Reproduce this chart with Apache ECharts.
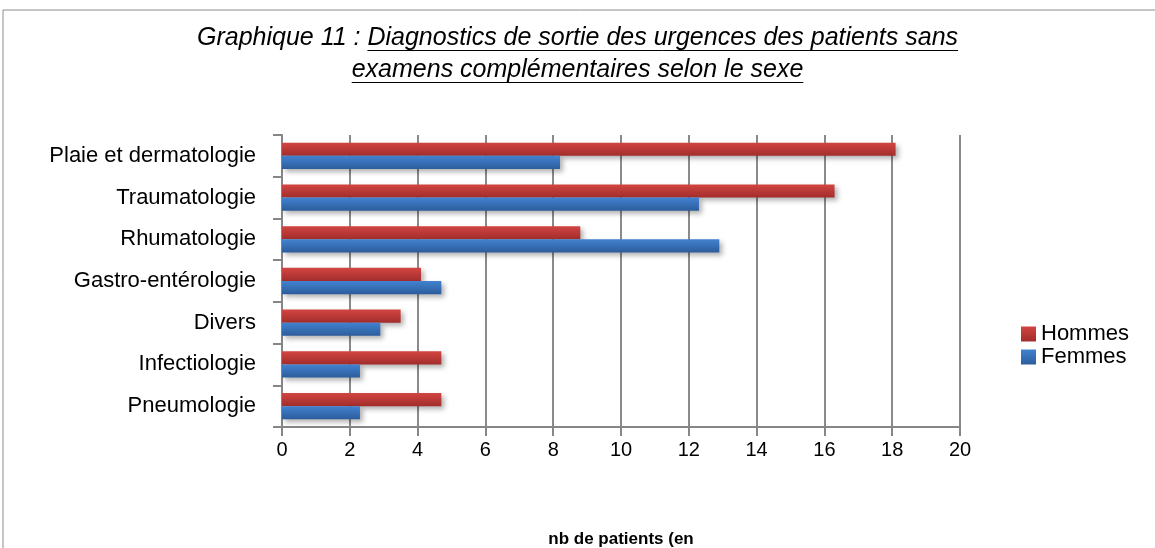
<!DOCTYPE html>
<html lang="fr">
<head>
    <meta charset="UTF-8">
    <title>Graphique 11</title>
    <script src="https://cdn.jsdelivr.net/npm/echarts@6/dist/echarts.min.js"></script>
    <style>
        body { margin: 0; background: #fff; }
        #root { width: 1155px; height: 548px; }
    </style>
</head>
<body>
    <div id="root"></div>
    <script>
        // catégories (de bas en haut)
        var categories = ['Pneumologie', 'Infectiologie', 'Divers', 'Gastro-entérologie',
            'Rhumatologie', 'Traumatologie', 'Plaie et dermatologie'];
        var hommes = [4.7, 4.7, 3.5, 4.1, 8.8, 16.3, 18.1];
        var femmes = [2.3, 2.3, 2.9, 4.7, 12.9, 12.3, 8.2];
        var xTicks = [0, 2, 4, 6, 8, 10, 12, 14, 16, 18, 20];

        var titlePre = 'Graphique 11 : ';
        var titleL1 = 'Diagnostics de sortie des urgences des patients sans';
        var titleL2 = 'examens complémentaires selon le sexe';

        var font = "'Liberation Sans', 'DejaVu Sans', sans-serif";
        var titleSize = 25;

        // mesure du texte pour placer le soulignement
        var ctx = document.createElement('canvas').getContext('2d');
        ctx.font = 'italic ' + titleSize + 'px ' + font;
        var wPre = ctx.measureText(titlePre).width;
        var w1 = ctx.measureText(titleL1).width;
        var w2 = ctx.measureText(titleL2).width;
        var cx = 1155 / 2;
        var u1x = cx - (wPre + w1) / 2 + wPre;

        function grad(top, bottom) {
            return new echarts.graphic.LinearGradient(0, 0, 0, 1, [
                { offset: 0, color: top },
                { offset: 1, color: bottom }
            ]);
        }

        var chart = echarts.init(document.getElementById('root'));

        chart.setOption({
            animation: false,
            title: {
                text: '{n|' + titlePre + titleL1 + '}\n{n|' + titleL2 + '}',
                left: 'center',
                top: 17,
                textStyle: {
                    rich: {
                        n: { fontFamily: font, fontStyle: 'italic', fontWeight: 'normal', fontSize: titleSize, color: '#000', lineHeight: 32 }
                    }
                }
            },
            graphic: [
                { type: 'rect', shape: { x: 3, y: 10, width: 1160, height: 560 }, style: { fill: 'none', stroke: '#8c8c8c', lineWidth: 1 }, z: -1 },
                { type: 'line', shape: { x1: u1x, y1: 50.5, x2: u1x + w1, y2: 50.5 }, style: { stroke: '#000', lineWidth: 1 } },
                { type: 'line', shape: { x1: cx - w2 / 2, y1: 82.5, x2: cx + w2 / 2, y2: 82.5 }, style: { stroke: '#000', lineWidth: 1 } }
            ],
            legend: {
                data: ['Hommes', 'Femmes'],
                orient: 'vertical',
                left: 1016,
                top: 318,
                itemWidth: 15,
                itemHeight: 15,
                itemGap: 1,
                icon: 'rect',
                textStyle: { fontFamily: font, fontSize: 22, color: '#000' }
            },
            grid: { left: 282, right: 195, top: 135, bottom: 121, outerBoundsMode: 'none' },
            xAxis: {
                type: 'value',
                min: 0,
                max: 20,
                interval: 2,
                name: 'nb de patients (en',
                nameLocation: 'middle',
                nameGap: 104,
                nameTextStyle: { fontFamily: font, fontSize: 17, fontWeight: 'bold', color: '#000' },
                axisLine: { show: true, lineStyle: { color: '#868686', width: 2 } },
                axisTick: { show: true, length: 9, lineStyle: { color: '#868686', width: 2 } },
                axisLabel: { fontFamily: font, fontSize: 20, color: '#000', margin: 13,
                    formatter: function (v) { return xTicks.indexOf(v) >= 0 ? String(v) : ''; } },
                splitLine: { show: true, lineStyle: { color: '#8a8a8a', width: 2 } }
            },
            yAxis: {
                type: 'category',
                data: categories,
                axisLine: { show: true, lineStyle: { color: '#868686', width: 2 } },
                axisTick: { show: true, length: 9, lineStyle: { color: '#868686', width: 2 } },
                axisLabel: { fontFamily: font, fontSize: 22, color: '#000', margin: 26 }
            },
            series: [{
                name: 'Hommes',
                type: 'bar',
                data: hommes,
                barGap: '0%',
                barCategoryGap: '37%',
                itemStyle: { color: grad('#d24542', '#a22d2b'), shadowColor: 'rgba(0,0,0,0.3)', shadowBlur: 5, shadowOffsetX: 3, shadowOffsetY: 3 }
            }, {
                name: 'Femmes',
                type: 'bar',
                data: femmes,
                barGap: '0%',
                barCategoryGap: '37%',
                itemStyle: { color: grad('#4282d0', '#2c5d9c'), shadowColor: 'rgba(0,0,0,0.3)', shadowBlur: 5, shadowOffsetX: 3, shadowOffsetY: 3 }
            }]
        });
    </script>
</body>
</html>
